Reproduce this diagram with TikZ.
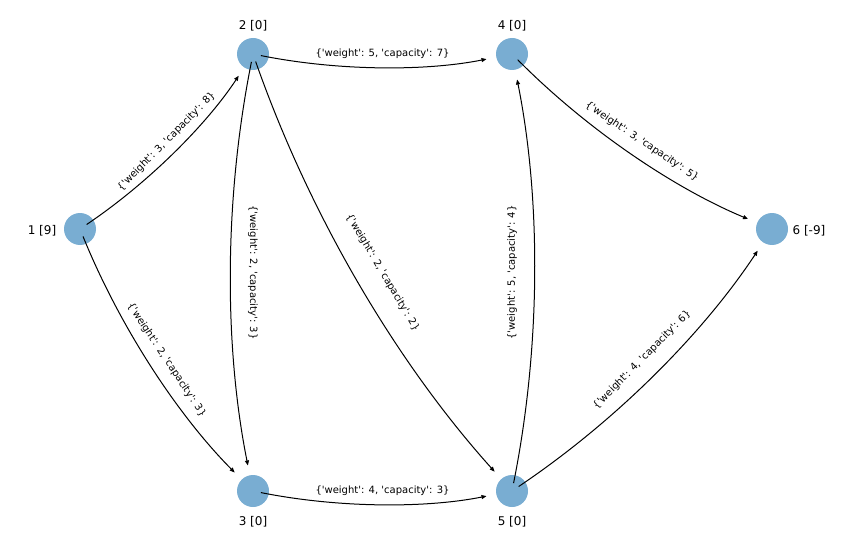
\documentclass[tikz,border=0pt]{standalone}
\usepackage{fontspec}
\newfontfamily\dv{DejaVu Sans}
\usetikzlibrary{arrows.meta}
\definecolor{nodeblue}{HTML}{1F77B4}
\begin{document}
\begin{tikzpicture}[x=1pt,y=1pt,
  vert/.style={circle, fill=nodeblue, fill opacity=0.6, minimum size=32pt, inner sep=0pt},
  vlabel/.style={font=\dv\fontsize{12}{14}\selectfont, inner sep=0pt},
  elabel/.style={font=\dv\fontsize{10}{12}\selectfont, inner sep=1pt},
  edge/.style={draw=black, line width=1pt, -{Triangle[length=5pt,width=4pt]}, shorten <=8pt, shorten >=26pt, bend right=11.31, looseness=0.868}]
\useasboundingbox (0,0) rectangle (851,558);
% vertices
\node[vert] (n1) at (80,329) {};
\node[vert] (n2) at (253,504) {};
\node[vert] (n3) at (253,67) {};
\node[vert] (n4) at (512,504) {};
\node[vert] (n5) at (512,67) {};
\node[vert] (n6) at (772,329) {};
% vertex labels
\node[vlabel] (l1) at (42,327.5) {1 [9]};
\node[vlabel] (l2) at (253,532.5) {2 [0]};
\node[vlabel] (l3) at (253,36.5) {3 [0]};
\node[vlabel] (l4) at (512,532.5) {4 [0]};
\node[vlabel] (l5) at (512,36.5) {5 [0]};
\node[vlabel] (l6) at (809,327.5) {6 [-9]};
% edges
\draw[edge] (n1.center) to (n2.center);
\draw[edge] (n1.center) to (n3.center);
\draw[edge] (n2.center) to (n3.center);
\draw[edge] (n2.center) to (n4.center);
\draw[edge] (n2.center) to (n5.center);
\draw[edge] (n3.center) to (n5.center);
\draw[edge] (n4.center) to (n6.center);
\draw[edge] (n5.center) to (n4.center);
\draw[edge] (n5.center) to (n6.center);
% edge labels
\node[elabel, rotate=45.33] (e12) at (166.5,416.5) {\{'weight': 3, 'capacity': 8\}};
\node[elabel, rotate=-56.56] (e13) at (166.5,198) {\{'weight': 2, 'capacity': 3\}};
\node[elabel, rotate=-90] (e23) at (253,285.5) {\{'weight': 2, 'capacity': 3\}};
\node[elabel] (e24) at (382.5,504) {\{'weight': 5, 'capacity': 7\}};
\node[elabel, rotate=-59.35] (e25) at (382.5,285.5) {\{'weight': 2, 'capacity': 2\}};
\node[elabel] (e35) at (382.5,67) {\{'weight': 4, 'capacity': 3\}};
\node[elabel, rotate=-33.94] (e46) at (642,416.5) {\{'weight': 3, 'capacity': 5\}};
\node[elabel, rotate=90] (e54) at (512,285.5) {\{'weight': 5, 'capacity': 4\}};
\node[elabel, rotate=45.22] (e56) at (642,198) {\{'weight': 4, 'capacity': 6\}};
\end{tikzpicture}
\end{document}
